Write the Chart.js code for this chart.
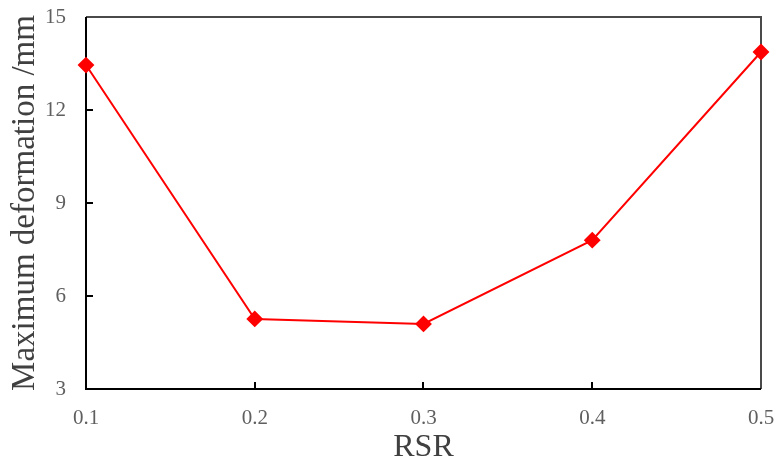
<!DOCTYPE html>
<html>
<head>
<meta charset="utf-8">
<script src="https://cdn.jsdelivr.net/npm/chart.js@4"></script>
<style>
  html, body { margin: 0; padding: 0; background: #fff; }
  #wrap { width: 777px; height: 464px; }
</style>
</head>
<body>
<div id="wrap"><canvas id="c" width="777" height="464"></canvas></div>
<script>
// RSR ratio vs. maximum deformation
const rsr = [0.1, 0.2, 0.3, 0.4, 0.5];
const maxDeformation = [13.45, 5.26, 5.10, 7.80, 13.87];
const yTicks = [3, 6, 9, 12, 15];
const xTicks = [0.1, 0.2, 0.3, 0.4, 0.5];

const points = rsr.map((x, i) => ({ x: x, y: maxDeformation[i] }));
const serif = '"Liberation Serif", "Times New Roman", serif';

// Frame around the plot area with inward tick marks
const framePlugin = {
  id: 'frame',
  beforeDatasetsDraw(chart) {
    const { ctx, chartArea: a, scales } = chart;
    ctx.save();
    ctx.lineWidth = 2;
    ctx.strokeStyle = '#4a4a4a';
    ctx.beginPath();
    ctx.moveTo(a.left, a.top);
    ctx.lineTo(a.right, a.top);
    ctx.lineTo(a.right, a.bottom);
    ctx.stroke();
    ctx.strokeStyle = '#000';
    ctx.beginPath();
    ctx.moveTo(a.left, a.top);
    ctx.lineTo(a.left, a.bottom);
    ctx.lineTo(a.right, a.bottom);
    ctx.stroke();
    ctx.beginPath();
    xTicks.slice(1, -1).forEach(v => {
      const px = Math.round(scales.x.getPixelForValue(v));
      ctx.moveTo(px, a.bottom);
      ctx.lineTo(px, a.bottom - 7);
    });
    yTicks.slice(1, -1).forEach(v => {
      const py = Math.round(scales.y.getPixelForValue(v));
      ctx.moveTo(a.left, py);
      ctx.lineTo(a.left + 7, py);
    });
    ctx.stroke();
    ctx.restore();
  }
};

new Chart(document.getElementById('c'), {
  type: 'scatter',
  data: {
    datasets: [{
      data: points,
      showLine: true,
      borderColor: '#ff0000',
      backgroundColor: '#ff0000',
      borderWidth: 2,
      pointStyle: 'rectRot',
      pointRadius: 7,
      pointHoverRadius: 7,
      clip: false
    }]
  },
  options: {
    responsive: false,
    animation: false,
    layout: { padding: { left: 0, right: 16, top: 17, bottom: 0 } },
    plugins: {
      legend: { display: false },
      tooltip: { enabled: false }
    },
    scales: {
      x: {
        type: 'linear',
        min: 0.1,
        max: 0.5,
        afterBuildTicks(scale) { scale.ticks = xTicks.map(v => ({ value: v })); },
        afterFit(scale) {
          scale.height = 75;
          scale.paddingLeft = 0;
          scale.paddingRight = 0;
        },
        grid: { display: false, drawTicks: false },
        border: { display: false },
        ticks: {
          color: '#5f5f5f',
          padding: 17,
          maxRotation: 0,
          autoSkip: false,
          font: { family: serif, size: 21 },
          callback: v => v.toFixed(1)
        },
        title: {
          display: true,
          text: 'RSR',
          color: '#404040',
          padding: { top: 0, bottom: 0 },
          font: { family: serif, size: 32, lineHeight: 1 }
        }
      },
      y: {
        min: 3,
        max: 15,
        afterBuildTicks(scale) { scale.ticks = yTicks.map(v => ({ value: v })); },
        afterFit(scale) {
          scale.width = 86;
          scale.paddingTop = 0;
          scale.paddingBottom = 0;
        },
        grid: { display: false, drawTicks: false },
        border: { display: false },
        ticks: {
          color: '#5f5f5f',
          padding: 20,
          font: { family: serif, size: 21 }
        },
        title: {
          display: true,
          text: 'Maximum deformation /mm',
          color: '#404040',
          padding: { top: 9, bottom: 0 },
          font: { family: serif, size: 33, lineHeight: 1 }
        }
      }
    }
  },
  plugins: [framePlugin]
});
</script>
</body>
</html>
